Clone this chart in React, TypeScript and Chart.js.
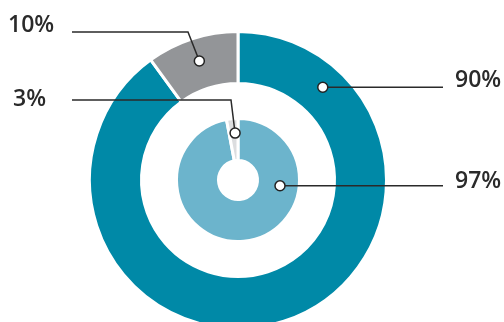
import React, { useEffect, useRef } from "react";
import { Chart, registerables } from "chart.js";

Chart.register(...registerables);

const outerLabels = ["Teal", "Gray"];
const outerValues = [90, 10];
const outerColors = ["#0089a7", "#939598"];

const innerLabels = ["Light blue", "Light gray"];
const innerValues = [97, 3];
const innerColors = ["#6cb4cc", "#dcdddf"];

const valueLabels = ["90%", "10%", "97%", "3%"];

// callouts: dataset index (0 outer, 2 inner), data index, angle fraction within arc, radial fraction, text pos, elbow
const callouts = [
  { ds: 0, idx: 0, af: 0.131, rf: 0.56, text: valueLabels[0], tx: 455, ty: 87, side: "right", lineEnd: 443 },
  { ds: 0, idx: 1, af: 0.5, rf: 0.55, text: valueLabels[1], tx: 8, ty: 32, side: "left", lineStart: 72, elbowX: 188, elbowY: 32 },
  { ds: 2, idx: 0, af: 0.28, rf: 0.545, text: valueLabels[2], tx: 455, ty: 188, side: "right", lineEnd: 443 },
  { ds: 2, idx: 1, af: 0.67, rf: 0.655, text: valueLabels[3], tx: 13, ty: 106, side: "left", lineStart: 72, elbowX: 231, elbowY: 100 },
];

const calloutPlugin = {
  id: "callouts",
  afterDatasetsDraw(chart: any) {
    const ctx = chart.ctx as CanvasRenderingContext2D;
    ctx.save();
    const dots: { x: number; y: number }[] = [];
    for (const c of callouts) {
      const arc = chart.getDatasetMeta(c.ds).data[c.idx] as any;
      const p = arc.getProps(["x", "y", "startAngle", "endAngle", "innerRadius", "outerRadius"], true);
      const a = p.startAngle + (p.endAngle - p.startAngle) * c.af;
      const r = p.innerRadius + (p.outerRadius - p.innerRadius) * c.rf;
      const dx = p.x + Math.cos(a) * r;
      const dy = p.y + Math.sin(a) * r;
      dots.push({ x: dx, y: dy });
      ctx.strokeStyle = "#2a2a2a";
      ctx.lineWidth = 1.5;
      ctx.beginPath();
      if (c.side === "right") {
        ctx.moveTo(dx, dy);
        ctx.lineTo(c.lineEnd as number, dy);
      } else {
        ctx.moveTo(c.lineStart as number, c.elbowY as number);
        ctx.lineTo(c.elbowX as number, c.elbowY as number);
        ctx.lineTo(dx, dy);
      }
      ctx.stroke();
      ctx.fillStyle = "#2a2a2a";
      ctx.font = "600 23px 'Open Sans'";
      ctx.textAlign = "left";
      ctx.textBaseline = "alphabetic";
      ctx.fillText(c.text, c.tx, c.ty);
    }
    for (const d of dots) {
      ctx.beginPath();
      ctx.arc(d.x, d.y, 5, 0, Math.PI * 2);
      ctx.fillStyle = "#ffffff";
      ctx.fill();
      ctx.lineWidth = 1.5;
      ctx.strokeStyle = "#222";
      ctx.stroke();
    }
    ctx.restore();
  },
};

export default function App() {
  const ref = useRef<HTMLCanvasElement>(null);
  useEffect(() => {
    const chart = new Chart(ref.current as HTMLCanvasElement, {
      type: "doughnut",
      data: {
        labels: outerLabels,
        datasets: [
          {
            data: outerValues,
            backgroundColor: outerColors,
            borderColor: "#ffffff",
            borderWidth: 3,
            weight: 52,
            hoverOffset: 0,
          } as any,
          {
            data: [1],
            backgroundColor: "rgba(0,0,0,0)",
            borderWidth: 0,
            weight: 35,
            hoverOffset: 0,
          } as any,
          {
            data: innerValues,
            labels: innerLabels,
            backgroundColor: innerColors,
            borderColor: "#ffffff",
            borderWidth: 3,
            weight: 42,
            hoverOffset: 0,
          } as any,
        ],
      },
      options: {
        animation: false,
        responsive: false,
        maintainAspectRatio: false,
        cutout: 19.5,
        rotation: 0,
        layout: { padding: { left: 88, right: 116, top: 30, bottom: 30 } },
        plugins: { legend: { display: false }, tooltip: { enabled: false } },
        events: [],
      } as any,
      plugins: [calloutPlugin],
    });
    return () => chart.destroy();
  }, []);
  return (
    <div style={{ position: "fixed", left: 0, top: 0, width: 504, height: 322, overflow: "hidden", background: "#fff" }}>
      <canvas ref={ref} width={504} height={360} style={{ display: "block", width: 504, height: 360 }} />
    </div>
  );
}
